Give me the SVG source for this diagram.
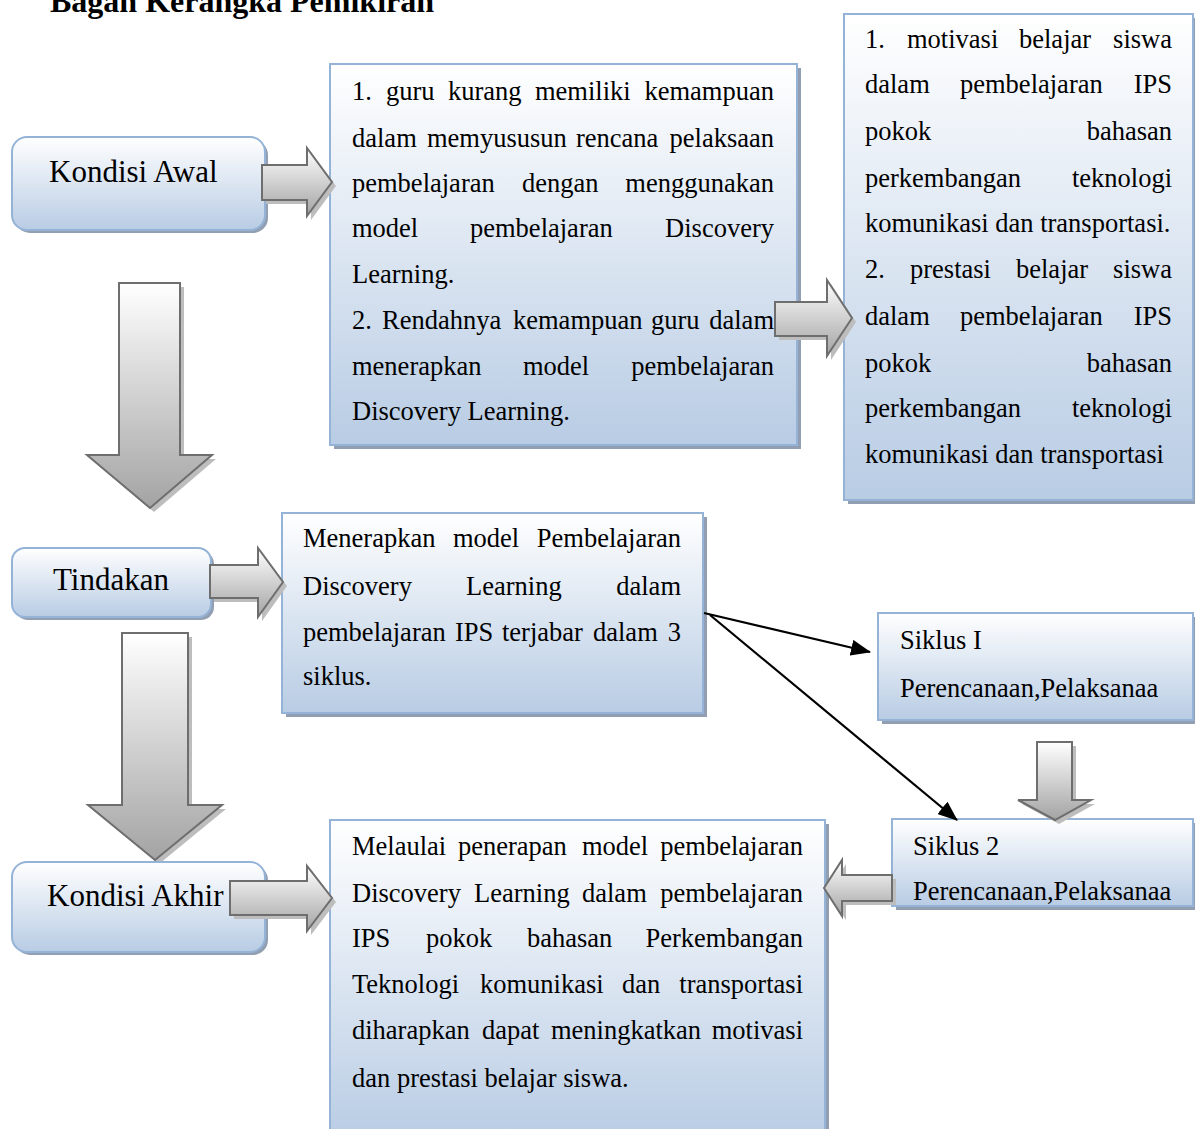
<svg xmlns="http://www.w3.org/2000/svg" width="1195" height="1129" viewBox="0 0 1195 1129">
<style>
.t{font-family:"Liberation Serif","Times New Roman",serif;font-size:26.5px;fill:#000}
.lbl{font-family:"Liberation Serif","Times New Roman",serif;font-size:31px;fill:#000}
.title{font-family:"Liberation Serif","Times New Roman",serif;font-size:32px;font-weight:bold;fill:#000}
.box{fill:url(#boxg);stroke:#95b3d7;stroke-width:2}
.sh{fill:#929fb2}
.arr{fill:url(#arrg);stroke:#6e6e6e;stroke-width:2;stroke-linejoin:miter}
.ash{fill:#bdbdbd}
.e{text-anchor:end}
.con{stroke:#000;stroke-width:2.2;fill:none}
</style>
<defs>
<linearGradient id="boxg" x1="0" y1="0" x2="0" y2="1">
<stop offset="0" stop-color="#ffffff"/>
<stop offset="1" stop-color="#b8cce4"/>
</linearGradient>
<linearGradient id="arrg" x1="0" y1="0" x2="0" y2="1">
<stop offset="0" stop-color="#ffffff"/>
<stop offset="1" stop-color="#a3a3a3"/>
</linearGradient>
<marker id="ah" markerWidth="10" markerHeight="8" refX="9.5" refY="4" orient="auto" markerUnits="userSpaceOnUse" viewBox="0 0 10 8">
<path d="M0,0 L10,4 L0,8 Z" fill="#000"/>
</marker>
<marker id="ah2" viewBox="0 0 20 16" refX="19" refY="8" markerWidth="20" markerHeight="16" orient="auto" markerUnits="userSpaceOnUse">
<path d="M0,0 L20,8 L0,16 Z" fill="#000"/>
</marker>
</defs>
<rect width="1195" height="1129" fill="#fff"/>

<text class="title" x="50" y="12">Bagan Kerangka Pemikiran</text>

<!-- big arrows -->
<g id="arrow-down-1">
<path class="ash" d="M123,287 L184,287 L184,459 L216,459 L154,512 L91,459 L123,459 Z"/>
<path class="arr" d="M119,283 L180,283 L180,455 L212,455 L150,508 L87,455 L119,455 Z"/>
</g>
<g id="arrow-down-2">
<path class="ash" d="M126,637 L192,637 L192,809 L226,809 L159,864 L92,809 L126,809 Z"/>
<path class="arr" d="M122,633 L188,633 L188,805 L222,805 L155,860 L88,805 L122,805 Z"/>
</g>

<g id="kondisi-awal">
<rect class="sh" x="15" y="140" width="253" height="93" rx="15"/>
<rect class="box" x="12" y="137" width="253" height="93" rx="15"/>
<text class="lbl" x="49" y="182">Kondisi Awal</text>
</g>

<g id="tindakan">
<rect class="sh" x="15" y="551" width="199" height="69" rx="13"/>
<rect class="box" x="12" y="548" width="199" height="69" rx="13"/>
<text class="lbl" x="53" y="590">Tindakan</text>
</g>

<g id="kondisi-akhir">
<rect class="sh" x="15" y="865" width="253" height="90" rx="15"/>
<rect class="box" x="12" y="862" width="253" height="90" rx="15"/>
<text class="lbl" x="47" y="906">Kondisi Akhir</text>
</g>

<g id="masalah">
<rect class="sh" x="334" y="68" width="467" height="381"/>
<rect class="box" x="330" y="64" width="467" height="381"/>
<text class="t" y="100"><tspan x="352">1.</tspan><tspan x="386">guru</tspan><tspan x="448">kurang</tspan><tspan x="535">memiliki</tspan><tspan x="774" text-anchor="end">kemampuan</tspan></text>
<text class="t" y="147"><tspan x="352">dalam</tspan><tspan x="427">memyususun</tspan><tspan x="576">rencana</tspan><tspan x="774" text-anchor="end">pelaksaan</tspan></text>
<text class="t" y="192"><tspan x="352">pembelajaran</tspan><tspan x="522">dengan</tspan><tspan x="774" text-anchor="end">menggunakan</tspan></text>
<text class="t" y="237"><tspan x="352">model</tspan><tspan x="470">pembelajaran</tspan><tspan x="774" text-anchor="end">Discovery</tspan></text>
<text class="t" x="352" y="283">Learning.</text>
<text class="t" y="329"><tspan x="352">2.</tspan><tspan x="382">Rendahnya</tspan><tspan x="513">kemampuan</tspan><tspan x="651">guru</tspan><tspan x="774" text-anchor="end">dalam</tspan></text>
<text class="t" y="375"><tspan x="352">menerapkan</tspan><tspan x="523">model</tspan><tspan x="774" text-anchor="end">pembelajaran</tspan></text>
<text class="t" x="352" y="420">Discovery Learning.</text>
</g>

<g id="hasil-awal">
<rect class="sh" x="848" y="18" width="349" height="486"/>
<rect class="box" x="844" y="14" width="349" height="486"/>
<text class="t" y="48"><tspan x="865">1.</tspan><tspan x="907">motivasi</tspan><tspan x="1019">belajar</tspan><tspan x="1172" text-anchor="end">siswa</tspan></text>
<text class="t" y="93"><tspan x="865">dalam</tspan><tspan x="960">pembelajaran</tspan><tspan x="1172" text-anchor="end">IPS</tspan></text>
<text class="t" y="140"><tspan x="865">pokok</tspan><tspan x="1172" text-anchor="end">bahasan</tspan></text>
<text class="t" y="187"><tspan x="865">perkembangan</tspan><tspan x="1172" text-anchor="end">teknologi</tspan></text>
<text class="t" x="865" y="232">komunikasi dan transportasi.</text>
<text class="t" y="278"><tspan x="865">2.</tspan><tspan x="910">prestasi</tspan><tspan x="1016">belajar</tspan><tspan x="1172" text-anchor="end">siswa</tspan></text>
<text class="t" y="325"><tspan x="865">dalam</tspan><tspan x="960">pembelajaran</tspan><tspan x="1172" text-anchor="end">IPS</tspan></text>
<text class="t" y="372"><tspan x="865">pokok</tspan><tspan x="1172" text-anchor="end">bahasan</tspan></text>
<text class="t" y="417"><tspan x="865">perkembangan</tspan><tspan x="1172" text-anchor="end">teknologi</tspan></text>
<text class="t" x="865" y="463">komunikasi dan transportasi</text>
</g>

<g id="tindakan-isi">
<rect class="sh" x="286" y="517" width="421" height="200"/>
<rect class="box" x="282" y="513" width="421" height="200"/>
<text class="t" y="547"><tspan x="303">Menerapkan</tspan><tspan x="453">model</tspan><tspan x="681" text-anchor="end">Pembelajaran</tspan></text>
<text class="t" y="595"><tspan x="303">Discovery</tspan><tspan x="466">Learning</tspan><tspan x="681" text-anchor="end">dalam</tspan></text>
<text class="t" y="641"><tspan x="303">pembelajaran</tspan><tspan x="455">IPS</tspan><tspan x="502">terjabar</tspan><tspan x="593">dalam</tspan><tspan x="681" text-anchor="end">3</tspan></text>
<text class="t" x="303" y="685">siklus.</text>
</g>

<g id="siklus-1">
<rect class="sh" x="882" y="617" width="315" height="107"/>
<rect class="box" x="878" y="613" width="315" height="107"/>
<text class="t" x="900" y="649">Siklus I</text>
<text class="t" x="900" y="697">Perencanaan,Pelaksanaa</text>
</g>

<g id="siklus-2">
<rect class="sh" x="896" y="823" width="301" height="87"/>
<rect class="box" x="892" y="819" width="301" height="87"/>
<text class="t" x="913" y="855">Siklus 2</text>
<text class="t" x="913" y="900">Perencanaan,Pelaksanaa</text>
</g>

<g id="kondisi-akhir-isi">
<rect class="sh" x="334" y="824" width="495" height="320"/>
<rect class="box" x="330" y="820" width="495" height="320"/>
<text class="t" y="855"><tspan x="352">Melaulai</tspan><tspan x="458">penerapan</tspan><tspan x="582">model</tspan><tspan x="803" text-anchor="end">pembelajaran</tspan></text>
<text class="t" y="902"><tspan x="352">Discovery</tspan><tspan x="474">Learning</tspan><tspan x="582">dalam</tspan><tspan x="803" text-anchor="end">pembelajaran</tspan></text>
<text class="t" y="947"><tspan x="352">IPS</tspan><tspan x="426">pokok</tspan><tspan x="527">bahasan</tspan><tspan x="803" text-anchor="end">Perkembangan</tspan></text>
<text class="t" y="993"><tspan x="352">Teknologi</tspan><tspan x="480">komunikasi</tspan><tspan x="622">dan</tspan><tspan x="803" text-anchor="end">transportasi</tspan></text>
<text class="t" y="1039"><tspan x="352">diharapkan</tspan><tspan x="482">dapat</tspan><tspan x="551">meningkatkan</tspan><tspan x="803" text-anchor="end">motivasi</tspan></text>
<text class="t" x="352" y="1087">dan prestasi belajar siswa.</text>
</g>

<!-- block arrows between nodes -->
<g id="block-arrows">
<path class="ash" d="M266,169 L311,169 L311,152 L336,186 L311,220 L311,204 L266,204 Z"/>
<path class="arr" d="M262,165 L307,165 L307,148 L332,182 L307,216 L307,200 L262,200 Z"/>
<path class="ash" d="M779,306 L831,306 L831,284 L856,322 L831,360 L831,340 L779,340 Z"/>
<path class="arr" d="M775,302 L827,302 L827,280 L852,318 L827,356 L827,336 L775,336 Z"/>
<path class="ash" d="M214,569 L262,569 L262,552 L287,586 L262,621 L262,602 L214,602 Z"/>
<path class="arr" d="M210,565 L258,565 L258,548 L283,582 L258,617 L258,598 L210,598 Z"/>
<path class="ash" d="M234,885 L311,885 L311,870 L336,902 L311,935 L311,919 L234,919 Z"/>
<path class="arr" d="M230,881 L307,881 L307,866 L332,898 L307,931 L307,915 L230,915 Z"/>
<path class="ash" d="M1041,746 L1076,746 L1076,804 L1095,804 L1059,824 L1022,804 L1041,804 Z"/>
<path class="arr" d="M1037,742 L1072,742 L1072,800 L1091,800 L1055,820 L1018,800 L1037,800 Z"/>
<path class="ash" d="M896,879 L846,879 L846,864 L828,892 L846,920 L846,905 L896,905 Z"/>
<path class="arr" d="M892,875 L842,875 L842,860 L824,888 L842,916 L842,901 L892,901 Z"/>
</g>

<g id="connectors">
<line class="con" x1="704" y1="613" x2="870" y2="652" marker-end="url(#ah2)"/>
<line class="con" x1="710" y1="615" x2="957" y2="820" marker-end="url(#ah2)"/>
</g>
</svg>
